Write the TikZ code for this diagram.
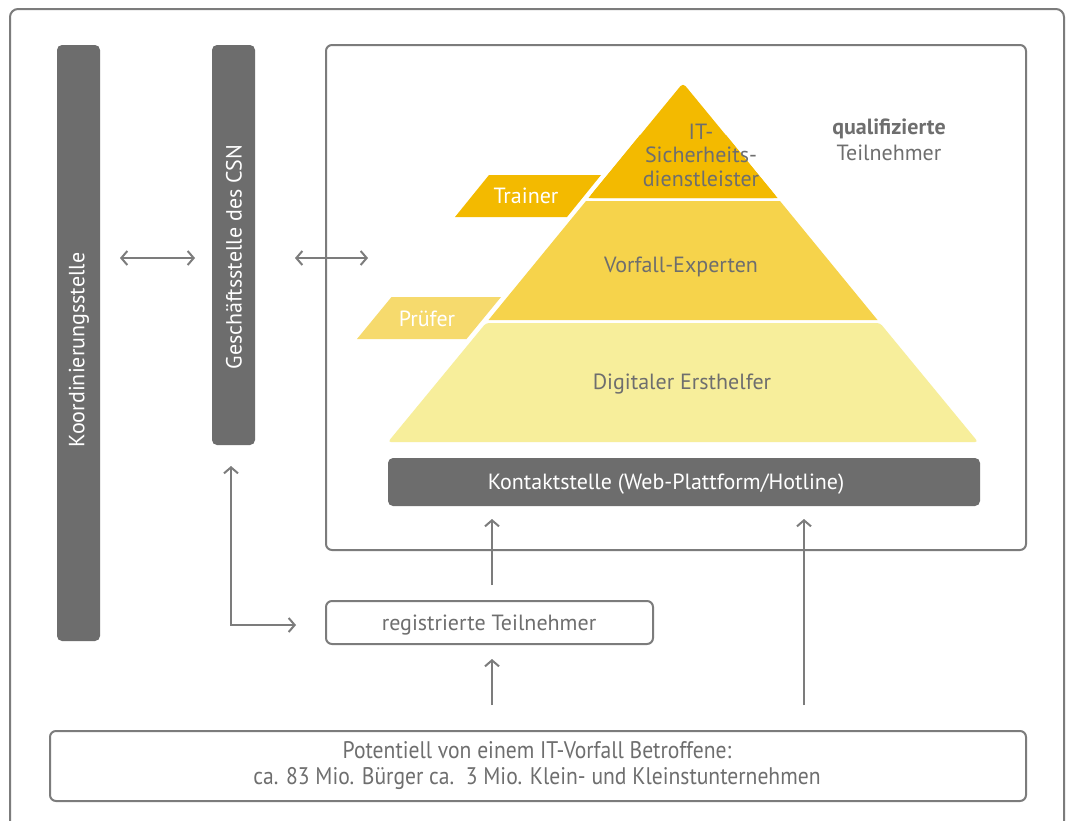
\documentclass[tikz,border=0pt]{standalone}
\usepackage{fontspec}
\setmainfont{PT Sans}
\newfontfamily\narrowfont[FakeStretch=0.9]{PT Sans}
\usetikzlibrary{arrows.meta}
\definecolor{linegray}{HTML}{7C7C7C}
\definecolor{bargray}{HTML}{6D6D6D}
\definecolor{txtgray}{HTML}{6E6E6E}
\definecolor{goldtop}{HTML}{F3BA00}
\definecolor{goldmid}{HTML}{F6D34B}
\definecolor{goldlow}{HTML}{F7EE9B}
\definecolor{goldpale}{HTML}{F6DA6D}
\tikzset{
  frame/.style={draw=linegray, line width=2pt, rounded corners=6pt},
  darkbar/.style={fill=bargray, draw=none, rounded corners=5pt, inner sep=0pt},
  bigfont/.style={font=\fontsize{22}{24}\selectfont},
  bartext/.style={bigfont, text=white, inner sep=0pt},
  pyrtext/.style={text=txtgray, font=\fontsize{22}{23.5}\selectfont, align=center, inner sep=0pt},
  tagtext/.style={bigfont, text=white, inner sep=0pt},
  conn/.style={draw=linegray, line width=2pt, {Straight Barb[length=6pt,width=14pt]}-{Straight Barb[length=6pt,width=14pt]}},
  up/.style={draw=linegray, line width=2pt, -{Straight Barb[length=6pt,width=14pt]}},
  boxnode/.style={frame, fill=white, inner sep=0pt, text=txtgray}
}
\begin{document}
\begin{tikzpicture}[x=1pt,y=-1pt]
\useasboundingbox (0,0) rectangle (1066,820);
\fill[white] (0,0) rectangle (1066,820);

% outer frame, open towards the bottom edge
\begin{scope}
\clip (0,0) rectangle (1066,820);
\draw[frame, rounded corners=8pt] (10,840) -- (10,9) -- (1064,9) -- (1064,840);
\end{scope}

% vertical bars
\node (koord) [darkbar, minimum width=43pt, minimum height=596pt] at (78.5,343) {};
\node (koordT) [bartext, rotate=90] at (79,350) {Koordinierungsstelle};
\node (gesch) [darkbar, minimum width=43pt, minimum height=400pt] at (233.5,245) {};
\node (geschT) [bartext, rotate=90] at (234,257) {Geschäftsstelle des CSN};

% qualified participants frame
\node (qbox) [frame, minimum width=700pt, minimum height=505pt, inner sep=0pt] at (676,297.5) {};

% pyramid tiers
\fill[goldlow, rounded corners=3pt] (486,323) -- (880,323) -- (978,442) -- (388,442) -- cycle;
\fill[goldmid] (488.5,320) -- (877.5,320) -- (780,201) -- (586,201) -- cycle;
\fill[goldtop, rounded corners=4pt] (588.5,198) -- (683,83) -- (777.5,198) -- cycle;
\fill[goldtop] (588.5,198) -- (640,135) -- (726,135) -- (777.5,198) -- cycle;

% side tags
\fill[goldtop] (455,217) -- (489,175) -- (601,175) -- (567,217) -- cycle;
\fill[goldpale] (357,339) -- (391.5,297) -- (501,297) -- (466.5,339) -- cycle;
\node (trainer) [tagtext] at (526,196) {Trainer};
\node (pruefer) [tagtext] at (427,319) {Prüfer};

\node (itsd) [pyrtext] at (701,155) {IT-\\Sicherheits-\\dienstleister};
\node (vorfall) [pyrtext] at (681,267) {Vorfall-Experten};
\node (ersth) [pyrtext] at (682,384) {Digitaler Ersthelfer};

\node (qual) [text=txtgray, align=center, font=\fontsize{22}{26}\selectfont, inner sep=0pt] at (889,140)
  {\textbf{qualifizierte}\\Teilnehmer};

% contact point
\node (kontakt) [darkbar, minimum width=592pt, minimum height=48pt] at (684,482) {};
\node (kontaktT) [bartext] at (666,484) {Kontaktstelle (Web-Plattform/Hotline)};

% registered participants
\node (reg) [boxnode, minimum width=327pt, minimum height=43pt] at (489.5,622.5) {};
\node (regT) [text=txtgray, bigfont, inner sep=0pt] at (489,625) {registrierte Teilnehmer};

% affected population
\node (pop) [boxnode, minimum width=976pt, minimum height=70pt] at (538,766) {};
\node (popT) [text=txtgray, align=center, font=\narrowfont\fontsize{24}{26}\selectfont, inner sep=0pt] at (537,766)
  {Potentiell von einem IT-Vorfall Betroffene:\\ca. 83 Mio. Bürger ca.\ \ 3 Mio. Klein- und Kleinstunternehmen};

% connectors
\coordinate (c1a) at (120,258);
\coordinate (c1b) at (195,258);
\coordinate (c2a) at (295,258);
\coordinate (c2b) at (368,258);
\draw[conn] (c1a) -- (c1b);
\draw[conn] (c2a) -- (c2b);

\coordinate (elbowTop) at (231,466);
\coordinate (elbowEnd) at (296,625);
\draw[conn] (elbowTop) -- (231,625) -- (elbowEnd);

\coordinate (r1s) at (492,585);
\coordinate (r1e) at (492,519);
\draw[up] (r1s) -- (r1e);
\coordinate (r2s) at (492,705);
\coordinate (r2e) at (492,659);
\draw[up] (r2s) -- (r2e);
\coordinate (r3s) at (804,705);
\coordinate (r3e) at (804,519);
\draw[up] (r3s) -- (r3e);
\end{tikzpicture}
\end{document}
